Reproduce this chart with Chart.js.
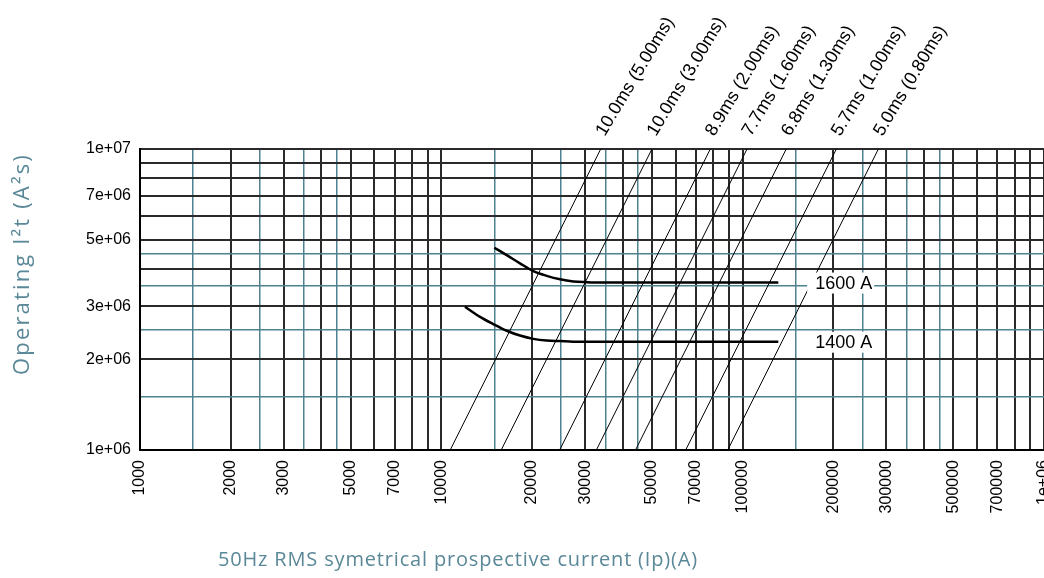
<!DOCTYPE html>
<html><head><meta charset="utf-8">
<script src="https://cdn.jsdelivr.net/npm/chart.js@4.4.0/dist/chart.umd.min.js"></script>
<style>
html,body{margin:0;padding:0;overflow:hidden;background:#fff;width:1044px;height:578px}
#wrap{width:1100px;height:578px;position:relative}
</style></head>
<body><div id="wrap"><canvas id="c" width="1100" height="578"></canvas></div>
<script>
// ---- data ----
const xTickLabels = [1000, 2000, 3000, 5000, 7000, 10000, 20000, 30000, 50000, 70000, 100000, 200000, 300000, 500000, 700000, 1000000];
const yTickLabels = [1e6, 2e6, 3e6, 5e6, 7e6, 1e7];

const curveNames = ['1600 A', '1400 A'];
const curve1600X = [14990, 16480, 18240, 20200, 22370, 24770, 27420, 30380, 33630, 131300];
const curve1600Y = [4.70e6, 4.44e6, 4.17e6, 3.93e6, 3.79e6, 3.69e6, 3.63e6, 3.61e6, 3.60e6, 3.60e6];
const curve1400X = [11980, 13440, 14880, 16480, 18240, 20200, 22370, 24770, 27420, 131300];
const curve1400Y = [2.99e6, 2.77e6, 2.62e6, 2.49e6, 2.40e6, 2.34e6, 2.31e6, 2.30e6, 2.29e6, 2.29e6];
const curveLabelX = [174000, 174000];

const lineLabels = ['10.0ms (5.00ms)', '10.0ms (3.00ms)', '8.9ms (2.00ms)', '7.7ms (1.60ms)', '6.8ms (1.30ms)', '5.7ms (1.00ms)', '5.0ms (0.80ms)'];
const lineStartX = [10700, 15800, 24700, 32700, 44100, 64700, 89200];   // current at I²t = 1e6
const lineEndX   = [33800, 50000, 78100, 103400, 139500, 204600, 282100]; // current at I²t = 1e7
const lineStartY = 1e6, lineEndY = 1e7;

const xTitle = '50Hz RMS symetrical prospective current (Ip)(A)';
const yTitle = 'Operating I\u00B2t (A\u00B2s)';

// ---- styling ----
const TEAL = '#4f8290';
const GRIDBLACK = '#2a2a2a';
const TITLECOL = '#5a8898';
const TICKFONT = {family: '"Liberation Sans", Arial, sans-serif', size: 16};
const AREA_RIGHT = 1044;

function gridValues(min, max) {
  const out = [];
  for (let d = min; d < max; d *= 10) {
    for (let m = 1; m <= 9; m++) out.push(m * d);
    for (const h of [1.5, 2.5, 3.5, 4.5]) out.push(h * d);
  }
  out.push(max);
  return out.sort((a, b) => a - b);
}
function isHalf(v) {
  const e = Math.floor(Math.log10(v) + 1e-9);
  const m = v / Math.pow(10, e);
  return Math.abs(m - Math.round(m)) > 0.1;
}
function inList(list, v) { return list.some(t => Math.abs(t - v) / t < 1e-6); }
function sci(v) {
  const e = Math.floor(Math.log10(v) + 1e-9);
  const m = Math.round(v / Math.pow(10, e));
  return m + 'e+' + String(e).padStart(2, '0');
}

const gridOpts = {
  drawTicks: false,
  color: ctx => (ctx.tick && isHalf(ctx.tick.value)) ? TEAL : GRIDBLACK,
  lineWidth: ctx => (ctx.tick && isHalf(ctx.tick.value)) ? 1.5 : 2
};

const datasets = [
  {data: curve1600X.map((x, i) => ({x, y: curve1600Y[i]})), borderColor: '#000', borderWidth: 2.5, pointRadius: 0, cubicInterpolationMode: 'monotone', fill: false},
  {data: curve1400X.map((x, i) => ({x, y: curve1400Y[i]})), borderColor: '#000', borderWidth: 2.5, pointRadius: 0, cubicInterpolationMode: 'monotone', fill: false}
];
lineStartX.forEach((sx, i) => {
  datasets.push({data: [{x: sx, y: lineStartY}, {x: lineEndX[i], y: lineEndY}], borderColor: '#000', borderWidth: 1, pointRadius: 0, fill: false});
});

const labelsPlugin = {
  id: 'labels',
  afterDatasetsDraw(chart) {
    const {ctx} = chart, xs = chart.scales.x, ys = chart.scales.y;
    ctx.save();
    ctx.font = '18px "Liberation Sans", Arial, sans-serif';
    ctx.textBaseline = 'middle';
    ctx.textAlign = 'left';
    const ends = [curve1600Y[curve1600Y.length - 1], curve1400Y[curve1400Y.length - 1]];
    curveNames.forEach((name, i) => {
      const px = xs.getPixelForValue(curveLabelX[i]);
      const py = ys.getPixelForValue(ends[i]);
      const w = ctx.measureText(name).width;
      ctx.fillStyle = '#fff';
      ctx.fillRect(px - 8, py - 10, w + 10, 21);
      ctx.fillStyle = '#000';
      ctx.fillText(name, px, py + 1);
    });
    ctx.restore();
  },
  afterDraw(chart) {
    const {ctx} = chart, xs = chart.scales.x, ys = chart.scales.y;
    ctx.save();
    ctx.font = '18px "Liberation Sans", Arial, sans-serif';
    ctx.fillStyle = '#000';
    ctx.textAlign = 'left';
    ctx.textBaseline = 'alphabetic';
    lineLabels.forEach((t, i) => {
      const px = xs.getPixelForValue(lineEndX[i]);
      const py = ys.getPixelForValue(lineEndY);
      ctx.save();
      ctx.translate(px + 4, py - 12);
      ctx.rotate(-59 * Math.PI / 180);
      ctx.fillText(t, 0, 0);
      ctx.restore();
    });
    ctx.fillStyle = TITLECOL;
    ctx.textAlign = 'center';
    ctx.textBaseline = 'alphabetic';
    function fitted(text, size, target) {
      ctx.font = size + 'px "Open Sans", sans-serif';
      ctx.letterSpacing = '0px';
      const w = ctx.measureText(text).width;
      const ls = Math.max(0, (target - w) / text.length);
      ctx.letterSpacing = ls.toFixed(2) + 'px';
    }
    fitted(xTitle, 20, 480);
    ctx.fillText(xTitle, 458, 566);
    ctx.save();
    fitted(yTitle, 22, 222);
    ctx.translate(29, 264);
    ctx.rotate(-Math.PI / 2);
    ctx.fillText(yTitle, 0, 0);
    ctx.restore();
    ctx.restore();
  }
};

const chart = new Chart(document.getElementById('c'), {
  type: 'line',
  data: {datasets},
  plugins: [labelsPlugin],
  options: {
    responsive: false,
    animation: false,
    events: [],
    layout: {autoPadding: false, padding: {top: 149, right: 56, bottom: 0, left: 0}},
    plugins: {legend: {display: false}, tooltip: {enabled: false}, title: {display: false}},
    scales: {
      x: {
        type: 'logarithmic', min: 1000, max: 1e6, position: 'bottom',
        afterBuildTicks: axis => { axis.ticks = gridValues(1000, 1e6).map(v => ({value: v})); },
        afterFit: axis => { axis.height = 128; },
        ticks: {
          autoSkip: false, minRotation: 90, maxRotation: 90, padding: 10,
          color: '#000', font: TICKFONT,
          callback: v => inList(xTickLabels, v) ? (v >= 1e6 ? sci(v) : String(Math.round(v))) : ''
        },
        grid: gridOpts,
        border: {display: true, color: '#000', width: 2}
      },
      y: {
        type: 'logarithmic', min: 1e6, max: 1e7, position: 'left',
        afterBuildTicks: axis => { axis.ticks = gridValues(1e6, 1e7).map(v => ({value: v})); },
        afterFit: axis => { axis.width = 140; },
        ticks: {
          autoSkip: false, padding: 9, color: '#000', font: TICKFONT,
          callback: v => inList(yTickLabels, v) ? sci(v) : ''
        },
        grid: gridOpts,
        border: {display: true, color: '#000', width: 2}
      }
    }
  }
});
const diff = chart.chartArea.right - AREA_RIGHT;
if (Math.abs(diff) > 0.5) {
  chart.options.layout.padding.right += diff;
  chart.update();
}
</script></body></html>
